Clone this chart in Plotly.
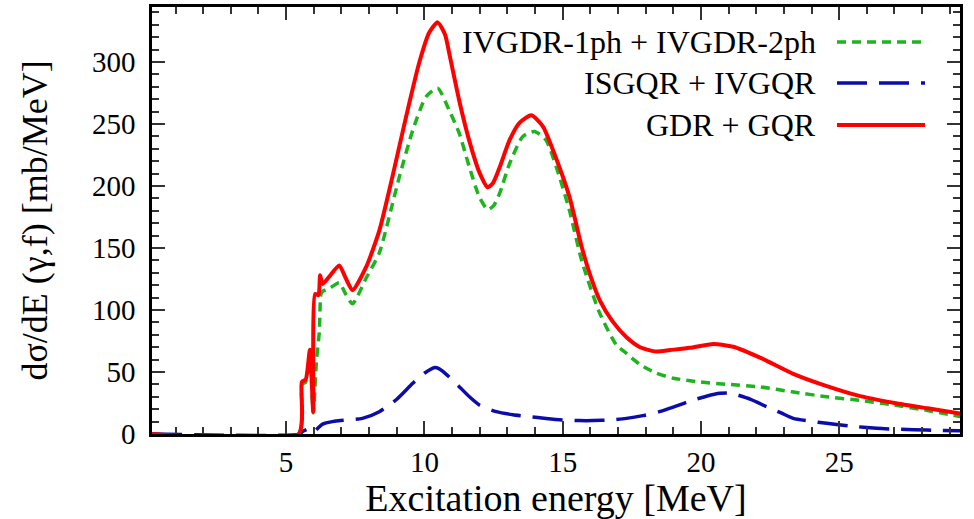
import plotly.graph_objects as go

# ---- data ----
E_red = [0.15, 5.45, 5.57, 5.71, 5.86, 5.98, 6.05, 6.17, 6.23, 6.32, 6.60, 6.92, 7.15, 7.40, 7.90,
         8.37, 8.85, 9.34, 9.82, 10.18, 10.48, 10.75, 10.90, 11.27, 11.63, 11.99, 12.29, 12.47,
         12.72, 13.08, 13.44, 13.87, 14.29, 14.77, 15.25, 15.70, 16.00, 16.34, 16.80, 17.31,
         17.80, 18.39, 18.88, 19.60, 20.45, 21.17, 22.20, 23.34, 24.50, 25.76, 27.00, 28.20, 29.40]
V_red = [0, 0, 42, 44, 68, 18, 113, 112, 128, 121, 128, 136, 126, 116, 135,
         164, 208, 256, 300, 324, 332, 322, 307, 268, 236, 211, 199, 202,
         215, 237, 251, 257, 248, 222, 191, 150, 128, 108, 91, 78,
         70, 66.5, 67.7, 69.5, 72.6, 70.4, 61, 48.5, 39, 30.5, 25, 20.7, 16.5]

E_green = [0.15, 5.45, 5.57, 5.71, 5.86, 5.98, 6.10, 6.20, 6.26, 6.32, 6.60, 6.92, 7.15, 7.40, 7.90,
           8.37, 8.85, 9.09, 9.58, 10.06, 10.48, 10.90, 11.27, 11.63, 11.99, 12.29, 12.50,
           12.72, 13.08, 13.56, 13.99, 14.40, 14.89, 15.25, 15.70, 16.34, 16.94, 17.31, 17.80,
           18.39, 19.00, 19.96, 21.00, 22.14, 23.30, 24.55, 25.80, 26.97, 28.20, 29.40]
V_green = [0, 0, 40, 42, 64, 17, 60, 82, 113, 115, 118, 122, 113, 105, 126,
           146, 186, 207, 245, 272, 279, 261, 242, 215, 191, 181, 184,
           194, 218, 240, 244, 237, 207, 180, 139, 97.5, 72, 65, 56,
           49, 45, 42, 40, 38, 34, 30, 27, 23.4, 19, 14]

E_blue = [0.15, 5.50, 5.59, 5.89, 6.00, 6.32, 6.80, 7.16, 7.76, 8.37, 8.97, 9.58, 10.00, 10.35,
          10.54, 10.90, 11.27, 11.63, 11.99, 12.60, 13.20, 13.80, 14.40, 15.01, 15.60, 16.10,
          16.70, 17.31, 17.90, 18.50, 19.10, 19.72, 20.20, 20.69, 21.00, 21.17, 21.80, 22.38,
          22.90, 23.34, 23.90, 24.55, 25.40, 26.36, 27.20, 28.17, 29.40]
V_blue = [0, 0, 2, 4.6, 2, 8, 10.5, 11.3, 12.6, 18, 27.4, 40.9, 49, 53.5,
          52.5, 46, 38, 30, 23.4, 18, 15.5, 14, 12.5, 11.3, 10.8, 10.8,
          11.3, 12.6, 14.8, 18, 22.5, 27.4, 30.5, 32.8, 33, 32.5, 28, 22,
          17, 12.6, 10.5, 8.6, 6.4, 4.6, 3.8, 3.2, 2.6]

names = ["IVGDR-1ph + IVGDR-2ph", "ISGQR + IVGQR", "GDR + GQR"]
colors = ["#1db41d", "#0c0ca8", "#ff0000"]
dashes = ["9px,6px", "30px,12px", "solid"]
widths = [3.5, 3.5, 4]

x_ticks = [5, 10, 15, 20, 25]
y_ticks = [0, 50, 100, 150, 200, 250, 300]

FONT = "Liberation Serif"

fig = go.Figure()
series = [(E_green, V_green), (E_blue, V_blue), (E_red, V_red)]
for (xs, ys), n, c, d, w in zip(series, names, colors, dashes, widths):
    fig.add_trace(go.Scatter(x=xs, y=ys, mode="lines", name=n,
                             line=dict(color=c, dash=d, width=w, shape="spline", smoothing=0.6),
                             showlegend=False))

L, R, T, B = 152, 14, 7, 85
W, H = 974, 519
pw, ph = W - L - R, H - T - B

def px2paper(x, y):
    return (x - L) / pw, (H - B - y) / ph

# custom legend: right-aligned text with line sample on the right
rows = [42, 83, 125]
for n, c, d, w, ry in zip(names, colors, dashes, widths, rows):
    tx, ty = px2paper(818, ry)
    fig.add_annotation(x=tx, y=ty, xref="paper", yref="paper", text=n, showarrow=False,
                       xanchor="right", yanchor="middle",
                       font=dict(family=FONT, size=32, color="black"))
    x0, y0 = px2paper(837, ry)
    x1, _ = px2paper(925, ry)
    fig.add_shape(type="line", xref="paper", yref="paper", x0=x0, x1=x1, y0=y0, y1=y0,
                  line=dict(color=c, dash=d, width=w))

axis_common = dict(showline=True, linecolor="black", linewidth=2.5, mirror="allticks",
                   ticks="inside", ticklen=13, tickwidth=1.5, tickcolor="#333333",
                   showgrid=False, zeroline=False,
                   tickfont=dict(family=FONT, size=29, color="black"))

fig.update_xaxes(range=[0.15, 29.37], tickvals=x_ticks, ticktext=[str(v) for v in x_ticks],
                 minor=dict(dtick=1, tick0=0, ticks="inside", ticklen=7, tickwidth=1.5,
                            tickcolor="#333333", showgrid=False),
                 title=dict(text="Excitation energy [MeV]", font=dict(family=FONT, size=38, color="black"),
                            standoff=4),
                 **axis_common)
fig.update_yaxes(range=[0, 344.4], tickvals=y_ticks, ticktext=[str(v) for v in y_ticks],
                 ticklabelstandoff=8,
                 minor=dict(dtick=10, tick0=0, ticks="inside", ticklen=7, tickwidth=1.5,
                            tickcolor="#333333", showgrid=False),
                 title=dict(text="dσ/dE (γ,f) [mb/MeV]", font=dict(family=FONT, size=36, color="black"),
                            standoff=34),
                 **axis_common)

fig.update_layout(width=W, height=H, margin=dict(l=L, r=R, t=T, b=B, autoexpand=False),
                  plot_bgcolor="white", paper_bgcolor="white", showlegend=False)

fig.write_html("out.html")
